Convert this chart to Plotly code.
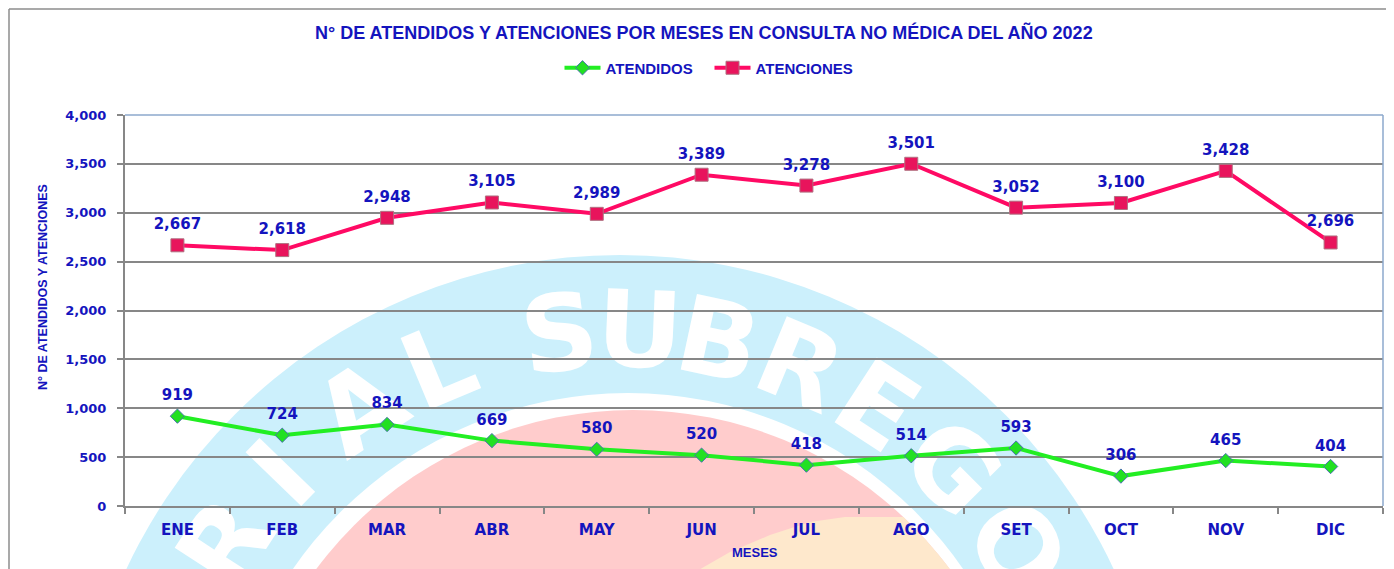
import base64, math
import plotly.graph_objects as go

meses = ["ENE", "FEB", "MAR", "ABR", "MAY", "JUN", "JUL", "AGO", "SET", "OCT", "NOV", "DIC"]
atendidos = [919, 724, 834, 669, 580, 520, 418, 514, 593, 306, 465, 404]
atenciones = [2667, 2618, 2948, 3105, 2989, 3389, 3278, 3501, 3052, 3100, 3428, 2696]
y_ticks = [0, 500, 1000, 1500, 2000, 2500, 3000, 3500, 4000]

# page coordinates (the html body has an 8px margin)
OFF = 8
PW, PH = 1394, 569
W, H = PW - OFF, PH - OFF
L, R, T, B = 125, 1383, 115, 506   # plot area in page pixels
BLUE = "#1414BE"
GRID = "#878787"

def pxx(x):
    return (x - L) / (R - L)

def pxy(y):
    return (B - y) / (B - T)

# ---- background watermark (decorative logo) as an SVG image ----
letters = [("R", -57), ("I", -46), ("A", -33.5), ("L", -22.7), ("S", -7.4), ("U", 2.4),
           ("B", 12.1), ("R", 22.5), ("E", 33.1), ("G", 45), ("O", 57.6)]
txt = ""
for ch, a in letters:
    cx = 620 + 470 * math.sin(math.radians(a))
    cy = 800 - 470 * math.cos(math.radians(a))
    txt += (f"<text x='{cx:.1f}' y='{cy:.1f}' text-anchor='middle' dominant-baseline='central' "
            f"transform='rotate({a} {cx:.1f} {cy:.1f})'>{ch}</text>")
svg = f"""<svg xmlns='http://www.w3.org/2000/svg' width='{W}' height='{H}' viewBox='{OFF} {OFF} {W} {H}'>
<defs><clipPath id='pc'><circle cx='633' cy='805' r='395'/></clipPath></defs>
<circle cx='620' cy='800' r='545' fill='#CCF0FC'/>
<g font-family='DejaVu Sans, sans-serif' font-weight='bold' font-size='106' fill='#FFFFFF'>{txt}</g>
<circle cx='628' cy='800' r='407' fill='#FFFFFF'/>
<circle cx='633' cy='805' r='395' fill='#FFCCCC'/>
<path clip-path='url(#pc)' d='M690,575 L730,552 L770,535 L810,522 L845,517 L900,517 L1000,517 L1000,575 Z' fill='#FEE8CC'/>
</svg>"""
svg_uri = "data:image/svg+xml;base64," + base64.b64encode(svg.encode()).decode()

label_font = dict(family="DejaVu Sans", size=15, color=BLUE, weight="bold")

fig = go.Figure()
fig.add_trace(go.Scatter(
    x=meses, y=atendidos, name="ATENDIDOS", mode="lines+markers",
    line=dict(color="#22EE22", width=4),
    marker=dict(symbol="diamond", size=11, color="#22E022", line=dict(color="#4A72B0", width=1)),
))
fig.add_trace(go.Scatter(
    x=meses, y=atenciones, name="ATENCIONES", mode="lines+markers",
    line=dict(color="#FF0A64", width=4),
    marker=dict(symbol="square", size=13, color="#E8145C", line=dict(color="#B07080", width=1)),
))
# data labels (transparent markers only used to offset the text)
for vals, sz in ((atendidos, 18), (atenciones, 18)):
    fig.add_trace(go.Scatter(
        x=meses, y=vals, mode="markers+text", showlegend=False, hoverinfo="skip",
        marker=dict(size=sz, color="rgba(0,0,0,0)"),
        texttemplate="%{y:,}", textposition="top center", textfont=label_font,
    ))

shapes = [
    dict(type="line", xref="paper", yref="paper", x0=pxx(9), x1=pxx(PW + 5), y0=pxy(9), y1=pxy(9),
         line=dict(color="#8C8C8C", width=1.5)),
    dict(type="line", xref="paper", yref="paper", x0=pxx(9), x1=pxx(9), y0=pxy(9), y1=pxy(PH + 5),
         line=dict(color="#8C8C8C", width=1.5)),
    dict(type="line", xref="paper", yref="paper", x0=0, x1=1, y0=1, y1=1,
         line=dict(color="#8DA9CC", width=1.5), layer="above"),
    dict(type="line", xref="paper", yref="paper", x0=1, x1=1, y0=0, y1=1,
         line=dict(color="#8DA9CC", width=1.5), layer="above"),
]

annotations = [
    dict(text="N° DE ATENDIDOS Y ATENCIONES POR MESES EN CONSULTA NO MÉDICA DEL AÑO 2022",
         xref="paper", yref="paper", x=pxx(704), y=pxy(32), showarrow=False,
         xanchor="center", yanchor="middle",
         font=dict(family="Liberation Sans", size=18, color=BLUE, weight="bold")),
    dict(text="N° DE ATENDIDOS Y ATENCIONES", xref="paper", yref="paper",
         x=pxx(43), y=pxy(287), showarrow=False, textangle=-90,
         xanchor="center", yanchor="middle",
         font=dict(family="Liberation Sans", size=12.5, color=BLUE, weight="bold")),
    dict(text="MESES", xref="paper", yref="paper", x=pxx(755), y=pxy(552), showarrow=False,
         xanchor="center", yanchor="middle",
         font=dict(family="Liberation Sans", size=13, color=BLUE, weight="bold")),
]

fig.update_layout(
    width=W, height=H,
    margin=dict(l=L - OFF, r=PW - R, t=T - OFF, b=PH - B, pad=0),
    paper_bgcolor="white", plot_bgcolor="rgba(0,0,0,0)",
    shapes=shapes, annotations=annotations,
    images=[dict(source=svg_uri, xref="paper", yref="paper", x=pxx(OFF), y=pxy(OFF),
                 sizex=W / (R - L), sizey=H / (B - T), xanchor="left", yanchor="top",
                 sizing="stretch", layer="below")],
    showlegend=True,
    legend=dict(orientation="h", x=pxx(709.5), y=pxy(68), xanchor="center", yanchor="middle",
                font=dict(family="Liberation Sans", size=15, color=BLUE, weight="bold"),
                bgcolor="rgba(0,0,0,0)", itemwidth=36, entrywidth=99, entrywidthmode="pixels"),
    xaxis=dict(type="category", range=[-0.5, len(meses) - 0.5], autorange=False,
               showline=True, linecolor=GRID, linewidth=2,
               ticks="outside", tickson="boundaries", ticklen=6, tickcolor=GRID, tickwidth=2,
               showgrid=False, tickfont=dict(family="DejaVu Sans", size=15, color=BLUE, weight="bold"),
               ticklabelstandoff=9),
    yaxis=dict(range=[0, 4000], tickvals=y_ticks, tickformat=",", showline=True, linecolor=GRID,
               linewidth=2, ticks="outside", ticklen=6, tickcolor=GRID, tickwidth=2,
               showgrid=True, gridcolor=GRID, gridwidth=2, zeroline=False,
               tickfont=dict(family="DejaVu Sans", size=13, color=BLUE, weight="bold"),
               ticklabelstandoff=8),
)

fig.write_html("out.html")
